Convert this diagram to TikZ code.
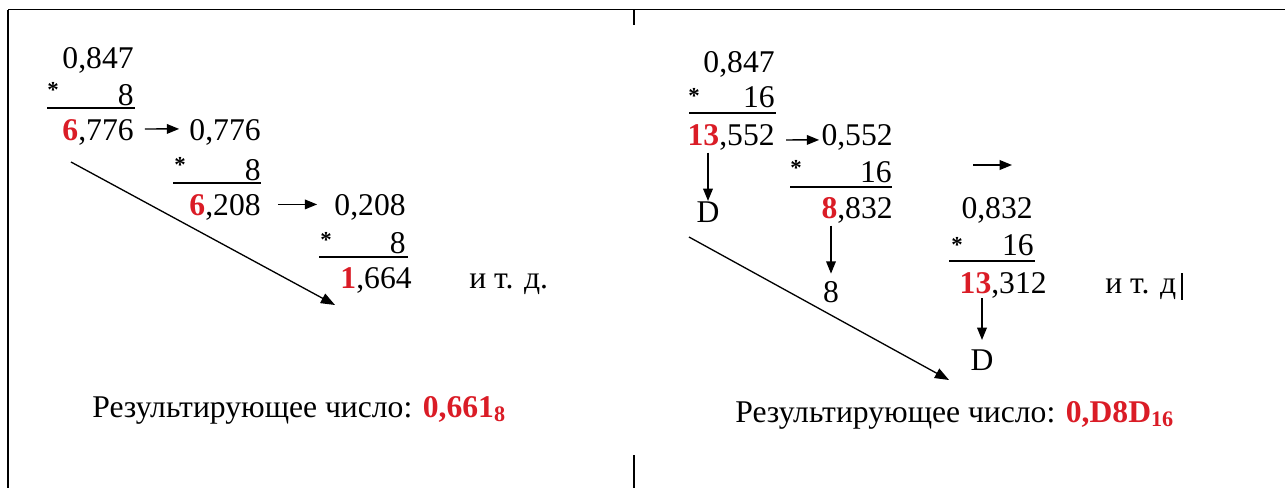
\documentclass[tikz,border=0pt]{standalone}
\usepackage{fontspec}
\setmainfont{Liberation Serif}
\newfontfamily\numfont{Liberation Serif}
\usepackage{xcolor}
\definecolor{digred}{RGB}{218,28,38}
\usepackage{tikz}
\usetikzlibrary{arrows.meta, positioning}
\newcommand{\rd}[1]{\textcolor{digred}{\textbf{#1}}}

\tikzset{
  num/.style={anchor=base east, inner sep=0pt},
  lbl/.style={anchor=base west, inner sep=0pt},
  digit/.style={anchor=base, inner sep=0pt},
  mulstar/.style={inner sep=0pt, font=\numfont\fontsize{13}{15}\selectfont\bfseries},
  arr/.style={-{Triangle[length=7pt,width=5.5pt]}, line width=0.8pt},
  diag/.style={-{Triangle[length=8pt,width=6pt]}, line width=0.75pt},
  barline/.style={line width=0.8pt},
}

\begin{document}
\begin{tikzpicture}[x=0.02cm, y=-0.02cm, font=\numfont\fontsize{18}{22}\selectfont]
  \useasboundingbox (0,0) rectangle (1285,488);

  % frame
  \draw[barline] (8,9.5) -- (1285,9.5);
  \draw[barline] (8,9.5) -- (8,488);
  \draw[barline] (634,9.5) -- (634,25);
  \draw[barline] (634,455) -- (634,488);

  % Left: times 8
  \node[num] (la0) at (134,68) {0,847};
  \node[num] (la1) at (134,140) {\rd{6},776};
  \node[num] (lb0) at (261,140) {0,776};
  \node[num] (lb1) at (261,215) {\rd{6},208};
  \node[num] (lc0) at (406,215) {0,208};
  \node[num] (lc1) at (412,288) {\rd{1},664};
  \node[lbl] (ldots) at (469,288) {и т. д.};
  \foreach \i/\sx/\sy/\mx/\my/\ra/\rb/\ry in {1/53/90/134/105/47/135/108,
      2/180/165/261/180/173/261/183, 3/326/240/406/253/319/408/257}{
    \node[mulstar] (ls\i) at (\sx,\sy) {*};
    \node[num] (lm\i) at (\mx,\my) {8};
    \draw[barline] (\ra,\ry) -- (\rb,\ry);
  }
  \draw[arr, shorten <=0.22cm, shorten >=0.2cm] ([yshift=0.06cm]la1.east) -- ([yshift=0.06cm]lb0.west);
  \draw[arr, shorten <=0.34cm, shorten >=0.34cm] ([yshift=0.05cm]lb1.east) -- ([yshift=0.05cm]lc0.west);
  \coordinate (ldg0) at (71,162);
  \coordinate (ldg1) at (335,305);
  \draw[diag] (ldg0) -- (ldg1);
  \node[lbl] (lres) at (92,417) {Результирующее число: \rd{0,661\textsubscript{8}}};

  % Right: times 16
  \node[num] (ra0) at (775,72) {0,847};
  \node[num] (ra1) at (775,145) {\rd{13},552};
  \node[num] (rb0) at (893,145) {0,552};
  \node[num] (rb1) at (893,218) {\rd{8},832};
  \node[num] (rc0) at (1033,218) {0,832};
  \node[num] (rc1) at (1047,293) {\rd{13},312};
  \node[lbl] (rdots) at (1105,293) {и т. д};
  \draw[line width=1.2pt] (1182,273) -- (1182,300);
  \foreach \i/\sx/\sy/\mx/\my/\ra/\rb/\ry in {1/694/96/775/107/689/776/113,
      2/796/168/892/182/790/892/187, 3/957/245/1034/255/949/1035/261}{
    \node[mulstar] (rs\i) at (\sx,\sy) {*};
    \node[num] (rm\i) at (\mx,\my) {16};
    \draw[barline] (\ra,\ry) -- (\rb,\ry);
  }
  \draw[arr, shorten <=0.22cm, shorten >=0.04cm] ([yshift=-0.06cm]ra1.east) -- ([yshift=-0.06cm]rb0.west);
  \coordinate (rf0) at (973,165);
  \coordinate (rf1) at (1012,165);
  \draw[arr] (rf0) -- (rf1);

  % digits taken off
  \node[digit] (rD1) at (708,222) {D};
  \node[digit] (r8) at (831,302) {8};
  \node[digit] (rD2) at (982,370) {D};
  \draw[arr, shorten <=0.05cm] (rD1.north |- ra1.south) -- (rD1.north);
  \draw[arr, shorten <=0.05cm, shorten >=0.14cm] (r8.north |- rb1.south) -- (r8.north);
  \draw[arr, shorten >=0.18cm] (rD2.north |- rc1.south) -- (rD2.north);

  \coordinate (rdg0) at (689,237);
  \coordinate (rdg1) at (949,380);
  \draw[diag] (rdg0) -- (rdg1);
  \node[lbl] (rres) at (735,422) {Результирующее число: \rd{0,D8D\textsubscript{16}}};

\end{tikzpicture}
\end{document}
